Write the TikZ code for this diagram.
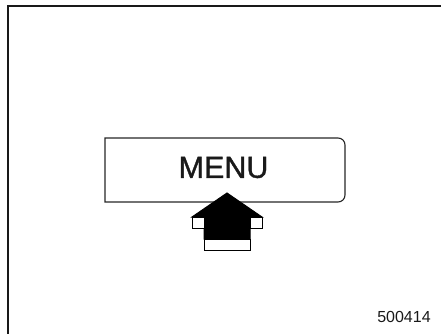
\documentclass[tikz,border=0pt]{standalone}
\usepackage{fontspec}
\setmainfont{Liberation Sans}
\newfontfamily\menufont[FakeBold=1.2]{Liberation Sans}
\usetikzlibrary{positioning}

\begin{document}
\begin{tikzpicture}[x=1pt,y=-1pt,
  facebox/.style={draw=black,fill=white,line width=1pt,line join=miter},
  arrowbody/.style={draw=black,fill=black,line width=1pt,line join=miter}]
\useasboundingbox (0,0) rectangle (441,334);
\draw[black!90,line width=1.5pt] (8,334) -- (8,6) -- (441,6);

% button
\coordinate (TL) at (105,138);
\coordinate (BL) at (105,202);
\draw[black!85,line width=1.1pt] (105,170) -- (TL) -- (338,138) arc[start angle=90,end angle=0,radius=7pt]
  -- (345,195) arc[start angle=0,end angle=-90,radius=7pt] -- (BL) -- cycle;
\node[font=\menufont\fontsize{30.5}{30}\selectfont,text=black!90,inner sep=0pt] (menu) at (223.5,167.5) {MENU};

% arrow
\draw[arrowbody] (227,193) -- (262,217) -- (250,217) -- (250,239) -- (204,239) -- (204,217) -- (192,217) -- cycle;
\draw[facebox] (192,217) rectangle (204,228);
\draw[facebox] (250,217) rectangle (262,228);
\draw[facebox] (204,239) rectangle (250,250);

\node[font=\fontsize{16}{16}\selectfont,text=black!90,inner sep=0pt] (code) at (404,317) {500414};
\end{tikzpicture}
\end{document}
